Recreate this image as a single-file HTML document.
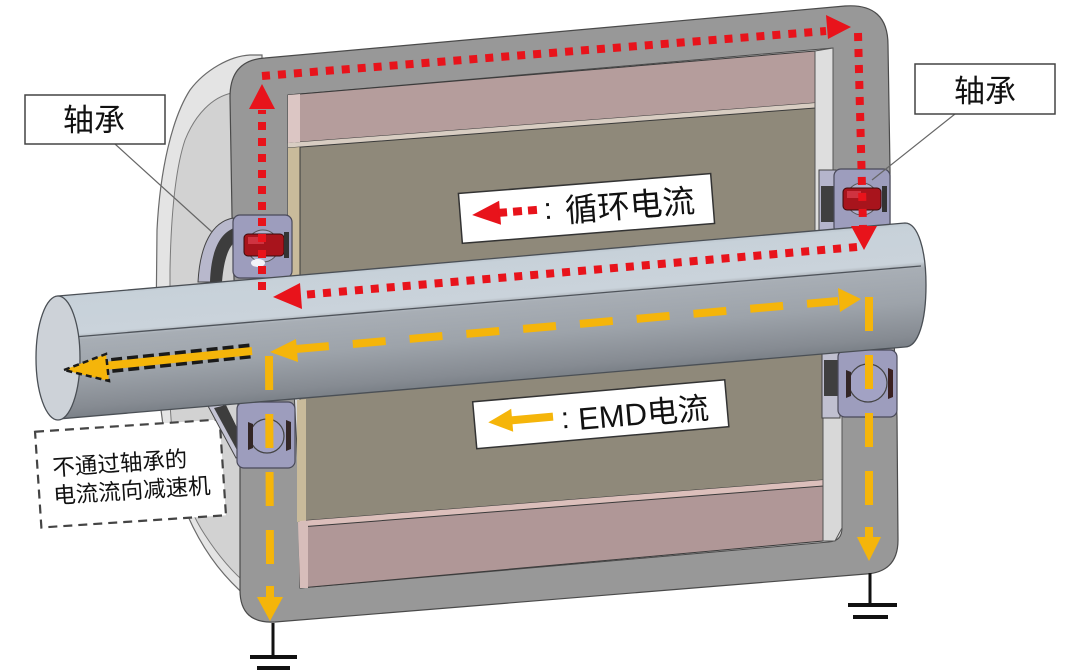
<!DOCTYPE html>
<html>
<head>
<meta charset="utf-8">
<style>
html,body{margin:0;padding:0;background:#fff;}
svg{display:block;}
text{font-family:"Liberation Sans","Noto Sans CJK SC",sans-serif;fill:#111;}
</style>
</head>
<body>
<svg width="1080" height="672" viewBox="0 0 1080 672" xmlns="http://www.w3.org/2000/svg">
<defs>
  <linearGradient id="sg" gradientUnits="userSpaceOnUse" x1="480" y1="258" x2="490.6" y2="382.5">
    <stop offset="0" stop-color="#b9c3cc"/>
    <stop offset="0.04" stop-color="#c7d1d9"/>
    <stop offset="0.33" stop-color="#cad3db"/>
    <stop offset="0.355" stop-color="#b5bcc3"/>
    <stop offset="0.38" stop-color="#a8aeb5"/>
    <stop offset="0.65" stop-color="#9da3aa"/>
    <stop offset="0.92" stop-color="#868b92"/>
    <stop offset="1" stop-color="#7a8087"/>
  </linearGradient>
</defs>

<rect width="1080" height="672" fill="#fff"/>

<!-- End bell (left) -->
<path d="M250,55 C230,56 205,70 190,90 C172,118 160,170 157,230 L156,330 C157,400 165,470 193,527 C208,557 225,578 248,598 L262,598 L262,55 Z" fill="#e4e4e4" stroke="#6a6a6a" stroke-width="1.2"/>
<path d="M232,93 C212,97 195,115 185,140 C175,170 171,215 170,270 L170,400 C172,460 185,505 205,535 C218,555 232,572 248,585 L258,585 L258,93 Z" fill="#d2d2d2" stroke="#7a7a7a" stroke-width="1"/>

<!-- Dashed note box -->
<g transform="rotate(-3.8 130.5 473.5)">
  <rect x="38" y="425.5" width="185" height="96" fill="#fff" stroke="#444" stroke-width="2.2" stroke-dasharray="9 6"/>
  <text x="53" y="470.5" font-size="22.5">不通过轴承的</text>
  <text x="52" y="498.5" font-size="22.5">电流流向减速机</text>
</g>

<!-- Housing -->
<path d="M265,58 L845,6 Q888,3 888,45 L890,169 L890,234 L897,417 L898,540 Q898,572 866,574 L275,622 Q240,624 240,590 L240,467 L232,215 L230,97 Q230,60 265,58 Z" fill="#989898" stroke="#4a4a4a" stroke-width="1.2"/>

<!-- Cavity -->
<path d="M288,95 L833,48 L833,169 L842,417 L842,528 Q842,541 829,542 L300,588 L298,467 L288,278 Z" fill="#d8d8d8" stroke="#4a4a4a" stroke-width="1"/>

<!-- Upper blocks -->
<polygon points="288,95 815,51 815,103 288,143" fill="#b59d9c" stroke="#3a3a3a" stroke-width="1"/>
<polygon points="288,95 300,94 300,142 288,143" fill="#dcc6c4"/>
<polygon points="288,143 815,103 815,108 288,148" fill="#d8cdc2"/>
<polygon points="288,148 815,108 815,245 288,290" fill="#8f897a" stroke="#3a3a3a" stroke-width="1"/>
<polygon points="288,148 300,147 300,289 288,290" fill="#c9bb9b"/>
<line x1="300" y1="147" x2="300" y2="289" stroke="#3a3a3a" stroke-width="1"/>
<polygon points="815,51 833,48 833,245 815,245" fill="#dedede" stroke="#555" stroke-width="1"/>

<!-- Lower blocks -->
<polygon points="300,395 823,350 823,480 300,521" fill="#8f897a" stroke="#3a3a3a" stroke-width="1"/>
<polygon points="297,400 306,399 306,521 297,522" fill="#c9bb9b"/>
<polygon points="300,521 823,480 823,486 300,527" fill="#dcbfbb"/>
<polygon points="300,527 823,486 823,541 300,588" fill="#b09797" stroke="#3a3a3a" stroke-width="1"/>
<polygon points="298,522 308,521 308,588 300,588" fill="#d7bdba"/>
<polygon points="823,350 842,350 842,528 835,541 823,541" fill="#d8d8d8" stroke="#555" stroke-width="1"/>

<!-- Left top bearing -->
<path d="M233,218 C212,222 200,245 198,282 L212,282 C214,252 222,235 236,232 Z" fill="#b8b8cc" stroke="#444" stroke-width="1"/>
<path d="M234,228 C219,234 211,252 210,282 L222,282 C224,258 229,246 236,241 Z" fill="#3d3d3d"/>
<rect x="233" y="215" width="59" height="63" rx="7" fill="#9d9dbd" stroke="#4a4a5a" stroke-width="1.2"/>
<circle cx="263" cy="246" r="16" fill="#b0b0cc" stroke="#555" stroke-width="1"/>
<rect x="244" y="234" width="40" height="22" rx="4" fill="#a8141c" stroke="#3a0a0a" stroke-width="1"/>
<rect x="248" y="237" width="16" height="7" fill="#e04050" opacity="0.7"/>
<ellipse cx="258" cy="263" rx="7" ry="4" fill="#f2f2f8"/>
<rect x="284" y="232" width="5" height="26" fill="#333"/>

<!-- Right top bearing -->
<rect x="819" y="170" width="17" height="62" fill="#b5b5cc" stroke="#444" stroke-width="1"/>
<rect x="821" y="186" width="13" height="36" fill="#3f3f3f"/>
<rect x="834" y="169" width="56" height="65" rx="7" fill="#9d9dbd" stroke="#4a4a5a" stroke-width="1.2"/>
<circle cx="862" cy="199" r="16" fill="#b0b0cc" stroke="#555" stroke-width="1"/>
<rect x="843" y="188" width="38" height="22" rx="4" fill="#a8141c" stroke="#3a0a0a" stroke-width="1"/>
<rect x="847" y="191" width="14" height="7" fill="#e04050" opacity="0.7"/>
<rect x="882" y="186" width="5" height="26" fill="#333"/>

<!-- Left bottom bearing -->
<polygon points="208,406 222,403 246,450 236,458" fill="#c4c4d4" stroke="#444" stroke-width="1"/>
<polygon points="214,408 226,405 246,446 238,452" fill="#3d3d3d"/>
<rect x="237" y="402" width="58" height="66" rx="7" fill="#9d9dbd" stroke="#4a4a5a" stroke-width="1.2"/>
<circle cx="267" cy="436" r="17" fill="#a2a2c4" stroke="#444" stroke-width="1.2"/>
<path d="M248,422 L253,424 L253,448 L248,450 Z" fill="#332626"/>
<path d="M286,420 L291,422 L291,449 L286,451 Z" fill="#332626"/>

<!-- Right bottom bearing -->
<rect x="822" y="352" width="18" height="66" fill="#c0c0d0" stroke="#444" stroke-width="1"/>
<rect x="824" y="360" width="14" height="36" fill="#3f3f3f"/>
<rect x="838" y="350" width="59" height="67" rx="7" fill="#9d9dbd" stroke="#4a4a5a" stroke-width="1.2"/>
<circle cx="868" cy="383" r="19" fill="#a2a2c4" stroke="#444" stroke-width="1.2"/>
<path d="M846,370 L851,372 L851,396 L846,398 Z" fill="#332626"/>
<path d="M888,368 L893,370 L893,397 L888,399 Z" fill="#3a2020"/>

<!-- Shaft -->
<path d="M58,296 L905,223 C918,223 926,250 926,285 C926,322 918,347 905,347 L58,419 Z" fill="url(#sg)" stroke="#4a4f55" stroke-width="1.3"/>
<line x1="62" y1="338" x2="921" y2="266" stroke="#4e535a" stroke-width="1.3"/>
<ellipse cx="58" cy="358" rx="22" ry="62" fill="#cdd2d8" stroke="#4a4f55" stroke-width="1.3"/>

<!-- Red dotted circulating current -->
<g stroke="#e8131b" stroke-width="8" fill="none" stroke-dasharray="8 8">
  <path d="M262,290 L262,110"/>
  <path d="M262,76 L826,31"/>
  <path d="M858,33 L863,226"/>
  <path d="M857,247 L302,295"/>
</g>
<g fill="#e8131b">
  <polygon points="262,84 249,109 275,109"/>
  <polygon points="851,27 826,15 828,39"/>
  <polygon points="864,250 851,226 877,226"/>
  <polygon points="273,297 300,283 302,309"/>
</g>

<!-- Yellow EMD current -->
<g stroke="#f5b50a" stroke-width="8" fill="none" stroke-dasharray="33 24">
  <path d="M296,349 L838,301"/>
</g>
<g stroke="#f5b50a" stroke-width="8" fill="none" stroke-dasharray="34 24">
  <path d="M269,356 L270,564"/>
  <path d="M869,297 L869,505"/>
</g>
<g fill="#f5b50a">
  <polygon points="270,352 296,339 298,362"/>
  <polygon points="861,299 838,288 840,312"/>
  <rect x="266" y="586" width="8" height="12"/>
  <polygon points="257,597 283,597 270,621"/>
  <rect x="865" y="527" width="8" height="11"/>
  <polygon points="857,537 881,537 869,561"/>
</g>

<!-- Current to reducer arrow (yellow with black dashed outline) -->
<path d="M250,351 L106,366" stroke="#1a1a1a" stroke-width="15" stroke-dasharray="11 5" fill="none"/>
<path d="M252,351 L104,366" stroke="#f5b50a" stroke-width="8" fill="none"/>
<polygon points="64,370 106,354 109,381" fill="#f5b50a" stroke="#1a1a1a" stroke-width="2.5" stroke-dasharray="6 4"/>

<!-- Legend 1: circulating current -->
<g transform="rotate(-4.5 586 208.5)">
  <rect x="460" y="183.5" width="253" height="50" fill="#fff" stroke="#333" stroke-width="1.5"/>
  <polygon points="472,206 500,194 500,218" fill="#e8131b"/>
  <path d="M498,206 L540,206" stroke="#e8131b" stroke-width="8" stroke-dasharray="9 6" fill="none"/>
  <text x="548" y="216" font-size="30" text-anchor="middle">:</text>
  <text x="565" y="220.5" font-size="32.5">循环电流</text>
</g>

<!-- Legend 2: EMD current -->
<g transform="rotate(-5 600.75 414.25)">
  <rect x="474.25" y="390.75" width="253" height="47" fill="#fff" stroke="#333" stroke-width="1.5"/>
  <polygon points="488,412.5 512,401 512,424" fill="#f5b50a"/>
  <path d="M508,412.5 L553,412.5" stroke="#f5b50a" stroke-width="8" fill="none"/>
  <text x="565" y="425" font-size="30" text-anchor="middle">:</text>
  <text x="578" y="428" font-size="31">EMD电流</text>
</g>

<!-- Bearing callouts -->
<line x1="115" y1="144" x2="212" y2="232" stroke="#666" stroke-width="1.2"/>
<rect x="25" y="95" width="140" height="49" fill="#fff" stroke="#444" stroke-width="1.5"/>
<text x="94" y="131" font-size="31" text-anchor="middle">轴承</text>

<line x1="955" y1="114" x2="872" y2="180" stroke="#666" stroke-width="1.2"/>
<rect x="915" y="64" width="140" height="50" fill="#fff" stroke="#444" stroke-width="1.5"/>
<text x="985" y="102" font-size="31" text-anchor="middle">轴承</text>

<!-- Ground symbols -->
<g stroke="#111" fill="none">
  <line x1="273" y1="623" x2="273" y2="657" stroke-width="3"/>
  <line x1="250" y1="657" x2="297" y2="657" stroke-width="4"/>
  <line x1="257" y1="668" x2="290" y2="668" stroke-width="4"/>
  <line x1="870" y1="573" x2="870" y2="605" stroke-width="3"/>
  <line x1="848" y1="605" x2="897" y2="605" stroke-width="4"/>
  <line x1="853" y1="617" x2="888" y2="617" stroke-width="4"/>
</g>
</svg>
</body>
</html>
